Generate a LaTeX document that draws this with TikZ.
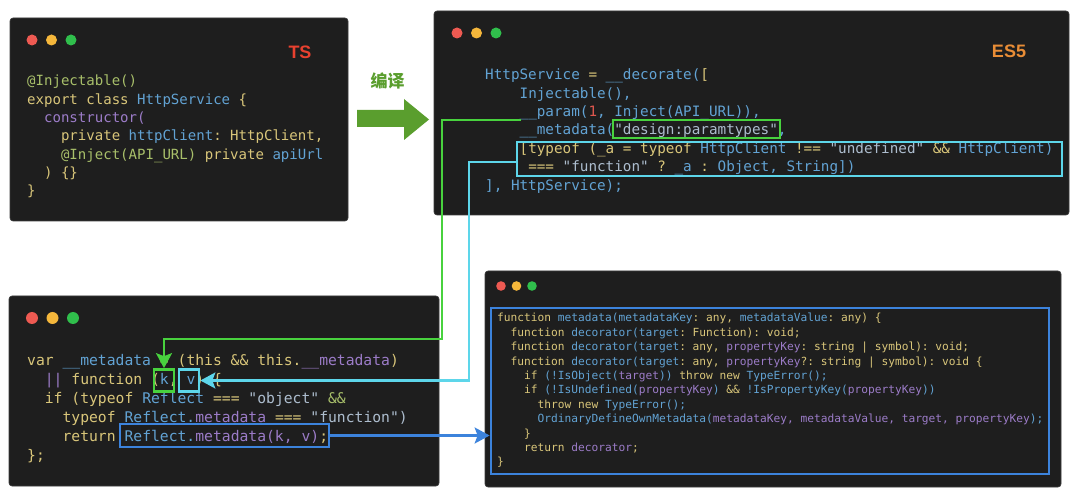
\documentclass[tikz,border=0pt]{standalone}
\usepackage{fontspec}
\setmonofont{DejaVu Sans Mono}
\setsansfont{Liberation Sans}
\newfontfamily\cjk{Noto Sans CJK SC}
\usetikzlibrary{positioning,arrows.meta}

\definecolor{winBg}{HTML}{1E1E1E}
\definecolor{winEdge}{HTML}{3C3C3C}
\definecolor{cY}{HTML}{D9C67A}
\definecolor{cB}{HTML}{62A3D4}
\definecolor{cP}{HTML}{9C7CC8}
\definecolor{cS}{HTML}{ADBDCE}
\definecolor{cG}{HTML}{A8BF6A}
\definecolor{cR}{HTML}{E0574E}
\definecolor{hlGreen}{HTML}{48D23E}
\definecolor{hlCyan}{HTML}{5DD6EA}
\definecolor{hlBlue}{HTML}{3C83DC}
\definecolor{arrGreen}{HTML}{5A9E2E}
\definecolor{tsRed}{HTML}{E8412F}
\definecolor{esOrange}{HTML}{E98D36}
\definecolor{dotRed}{HTML}{EE5A52}
\definecolor{dotYel}{HTML}{F5B73B}
\definecolor{dotGrn}{HTML}{30BF4C}

\newcommand{\kY}[1]{\textcolor{cY}{#1}}
\newcommand{\kB}[1]{\textcolor{cB}{#1}}
\newcommand{\kP}[1]{\textcolor{cP}{#1}}
\newcommand{\kS}[1]{\textcolor{cS}{#1}}
\newcommand{\kG}[1]{\textcolor{cG}{#1}}
\newcommand{\kR}[1]{\textcolor{cR}{#1}}
\newcommand{\lnind}[1]{\strut\hspace*{#1\fontdimen2\font}}

\tikzset{win node/.style={rectangle,rounded corners=3pt,fill=winBg,draw=winEdge,line width=0.6pt,inner sep=0pt},
	code node/.style={anchor=north west,inner sep=0pt,align=left},
	hl box/.style={rectangle,draw,line width=2.7pt,inner sep=0pt},
	conn/.style={line width=2.3pt,-{Stealth[length=15pt,width=16pt,inset=3pt]}},
	tag node/.style={inner sep=0pt,font=\sffamily\bfseries\fontsize{18}{20}\selectfont},}

\begin{document}
\begin{tikzpicture}[x=1pt,y=-1pt]
			\fill[white] (0,0) rectangle (1080,497);
			\useasboundingbox (0,0) rectangle (1080,497);

			\node[win node,minimum width=338pt,minimum height=203pt] (tsWin) at (179,119.5) {};
			\node[win node,minimum width=635pt,minimum height=204pt] (esWin) at (751.5,113) {};
			\node[win node,minimum width=430pt,minimum height=190pt] (jsWin) at (224,391) {};
			\node[win node,minimum width=576pt,minimum height=216pt] (rfWin) at (773,379) {};

			\foreach \dx/\dy/\ds/\dr in {32/40/19.5/5.5, 457/33/19.5/5.5, 32/318/20.5/6, 501/286/15.5/4.8}
			{
				\fill[dotRed] (\dx,\dy) circle (\dr pt);
				\fill[dotYel] (\dx+\ds,\dy) circle (\dr pt);
				\fill[dotGrn] (\dx+2*\ds,\dy) circle (\dr pt);
			}

			\node[tag node,text=tsRed] (ts) at (300,52) {TS};
			\node[tag node,text=esOrange] (es5) at (1009,51) {ES5};

			\fill[arrGreen] (357,110) -- (404,110) -- (404,99) -- (429,119.5) -- (404,140) -- (404,127) -- (357,127) -- cycle;
			\node[inner sep=0pt,text=arrGreen,font=\cjk\bfseries\fontsize{17}{20}\selectfont] (compile) at (387.5,80.5) {编译};

			\node[code node,font=\ttfamily\fontsize{14.05}{18.3}\selectfont] (tsCode) at (27,72.8) {%
				\lnind{0}\kG{@Injectable()}\\
				\lnind{0}\kY{export class} \kB{HttpService} \kY{\{}\\
				\lnind{2}\kP{constructor(}\\
				\lnind{4}\kY{private} \kB{httpClient}\kY{: HttpClient,}\\
				\lnind{4}\kG{@Inject(API\_URL)} \kY{private} \kB{apiUrl}\\
				\lnind{2}\kY{) \{\}}\\
				\lnind{0}\kY{\}}};

			\node[code node,font=\ttfamily\fontsize{14.3}{18.35}\selectfont] (esCode) at (485,66.9) {%
				\lnind{0}\kB{HttpService} \kY{=} \kB{\_\_decorate(}\kY{[}\\
				\lnind{4}\kB{Injectable(),}\\
				\lnind{4}\kB{\_\_param(}\kR{1}\kB{, Inject(API\_URL)),}\\
				\lnind{4}\kB{\_\_metadata(}\kS{"design:paramtypes"}\kB{,}\\
				\lnind{4}\kY{[typeof (\_a = typeof} \kB{HttpClient} \kY{!==} \kS{"undefined"} \kY{\&\&} \kB{HttpClient)}\\
				\lnind{5}\kY{===} \kS{"function"} \kY{?} \kB{\_a} \kY{:} \kB{Object, String])}\\
				\lnind{0}\kB{], HttpService);}};

			\node[code node,font=\ttfamily\fontsize{14.7}{19}\selectfont] (jsCode) at (27,351.6) {%
				\lnind{0}\kY{var} \kB{\_\_metadata} \kY{=} \kY{(this \&\& this.}\kP{\_\_metadata}\kY{)}\\
				\lnind{2}\kP{||} \kY{function} \kY{(}\kB{k}\kY{,} \kB{v}\kY{)} \kY{\{}\\
				\lnind{2}\kY{if (typeof} \kB{Reflect} \kY{===} \kS{"object"} \kG{\&\&}\\
				\lnind{4}\kY{typeof} \kB{Reflect.}\kP{metadata} \kY{===} \kS{"function")}\\
				\lnind{4}\kY{return} \kB{Reflect.}\kP{metadata(k, v)}\kY{;}\\
				\lnind{0}\kY{\};}};

			\node[code node,font=\ttfamily\fontsize{11.2}{14.4}\selectfont] (rfCode) at (497,311.6) {%
				\lnind{0}\kY{function} \kB{metadata(metadataKey}\kY{: any,} \kB{metadataValue}\kY{: any) \{}\\
				\lnind{2}\kY{function} \kB{decorator(target}\kY{: Function): void;}\\
				\lnind{2}\kY{function} \kB{decorator(target}\kY{: any,} \kP{propertyKey}\kY{: string | symbol): void;}\\
				\lnind{2}\kY{function} \kB{decorator(target}\kY{: any,} \kP{propertyKey}\kY{?: string | symbol): void \{}\\
				\lnind{4}\kY{if} \kB{(!IsObject(}\kP{target}\kB{))} \kY{throw new} \kB{TypeError();}\\
				\lnind{4}\kY{if} \kB{(!IsUndefined(}\kP{propertyKey}\kB{)} \kY{\&\&} \kB{!IsPropertyKey(}\kP{propertyKey}\kB{))}\\
				\lnind{6}\kY{throw new} \kB{TypeError();}\\
				\lnind{6}\kB{OrdinaryDefineOwnMetadata(}\kP{metadataKey, metadataValue, target, propertyKey}\kB{);}\\
				\lnind{4}\kY{\}}\\
				\lnind{4}\kY{return} \kP{decorator}\kY{;}\\
				\lnind{0}\kY{\}}};

			\node[hl box,draw=hlGreen,minimum width=167pt,minimum height=18pt] (gbox) at (696.5,129) {};
			\node[hl box,draw=hlCyan,minimum width=545pt,minimum height=34pt] (cbox) at (789.5,159) {};
			\node[hl box,draw=hlGreen,minimum width=20pt,minimum height=22pt] (kbox) at (164,380.5) {};
			\node[hl box,draw=hlCyan,minimum width=20pt,minimum height=22pt] (vbox) at (189,380.5) {};
			\node[hl box,draw=hlBlue,minimum width=209pt,minimum height=23pt] (bbox) at (224.5,435.5) {};
			\node[hl box,draw=hlBlue,minimum width=558pt,minimum height=166pt] (fbox) at (770,391) {};

			\coordinate (gstart) at (521,120);
			\coordinate (gbend) at (442,120);
			\coordinate (gturn) at (442,339);
			\coordinate (cbend) at (469,162);

			\draw[conn,hlGreen] (gstart) -- (gbend) -- (gturn) -| (kbox.north);
			\draw[conn,hlCyan] (cbox.west |- cbend) -- (cbend) |- (vbox.east);
			\draw[conn,hlBlue] (bbox.east) -- (bbox.east -| fbox.west);
		\end{tikzpicture}
\end{document}
